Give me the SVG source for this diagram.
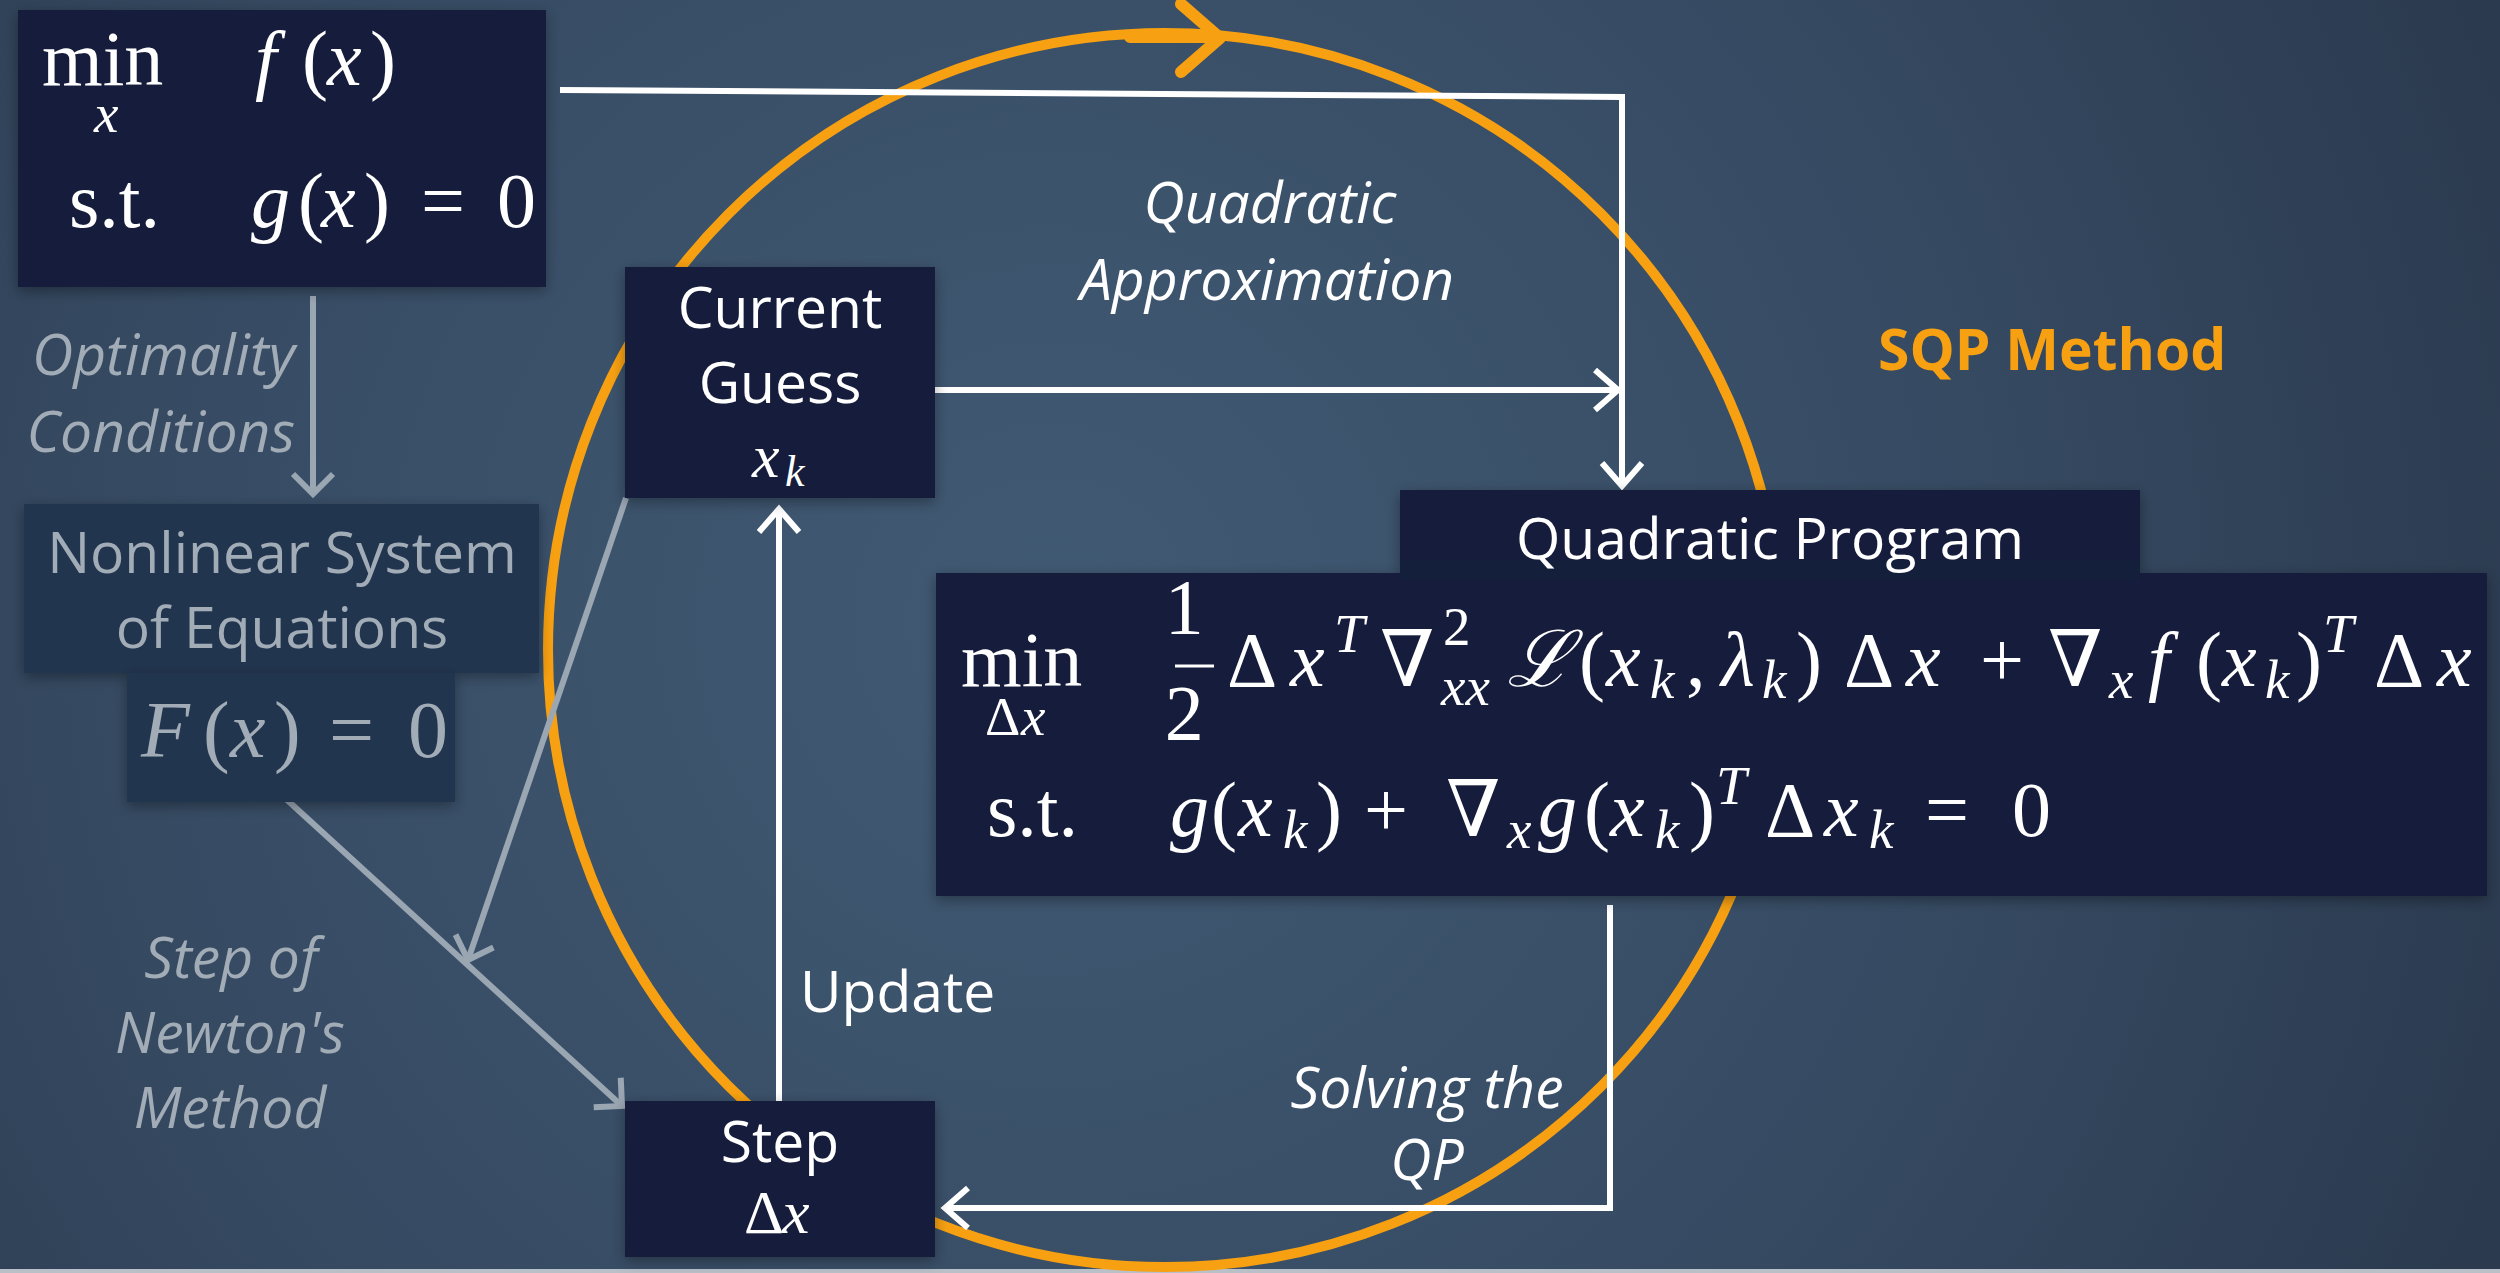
<svg xmlns="http://www.w3.org/2000/svg" width="2500" height="1273" viewBox="0 0 2500 1273">
<defs>
  <radialGradient id="bg" cx="1050" cy="620" r="1550" gradientUnits="userSpaceOnUse">
    <stop offset="0" stop-color="#415a74"/>
    <stop offset="0.55" stop-color="#374c64"/>
    <stop offset="1" stop-color="#2b3a4f"/>
  </radialGradient>
  <filter id="sh" x="-10%" y="-10%" width="120%" height="130%">
    <feDropShadow dx="0" dy="4" stdDeviation="7" flood-color="#000" flood-opacity="0.35"/>
  </filter>
  <marker id="aw" markerUnits="userSpaceOnUse" orient="auto" refX="0" refY="0" overflow="visible">
    <path d="M-23,-20 L0,0 L-23,20" fill="none" stroke="#ffffff" stroke-width="6"/>
  </marker>
  <marker id="ag" markerUnits="userSpaceOnUse" orient="auto" refX="0" refY="0" overflow="visible">
    <path d="M-20,-20 L0,0 L-20,20" fill="none" stroke="#9aa6b2" stroke-width="6"/>
  </marker>
  <style>
    .box{fill:#131f3b;filter:url(#sh)}
    .gbox{fill:#24344f;filter:url(#sh)}
    .lbl{font-family:"Open Sans","Noto Sans",sans-serif;font-size:57px;fill:#ffffff}
    .glbl{font-family:"Open Sans","Noto Sans",sans-serif;font-size:57px;fill:#a2acb7}
    .it{font-style:italic}
    .m{font-family:"Liberation Serif","DejaVu Serif",serif;font-size:78px;fill:#ffffff}
    .gm{font-family:"Liberation Serif","DejaVu Serif",serif;font-size:80px;fill:#a2acb7}
    .v{font-style:italic}
    .s{font-size:55px}
    .wl{fill:none;stroke:#ffffff;stroke-width:6}
    .gl{fill:none;stroke:#9aa6b2;stroke-width:6}
  </style>
</defs>
<rect x="0" y="0" width="2500" height="1273" fill="url(#bg)"/>
<rect x="0" y="1269" width="2500" height="4" fill="#b9c0c8"/>

<g id="cycle">
  <circle cx="1165" cy="650" r="617" fill="none" stroke="#f7a011" stroke-width="10"/>
  <path d="M1130,37 L1216,37 M1181,4 L1220,38 L1181,72" fill="none" stroke="#f7a011" stroke-width="12" stroke-linecap="round" stroke-linejoin="round"/>
  <text x="1878" y="370" style="font-family:'Open Sans','Noto Sans',sans-serif;font-size:57px;font-weight:bold;fill:#f7a011">SQP Method</text>
</g>

<g id="connectors">
  <path class="wl" d="M560,90 L1622,97 L1622,486" marker-end="url(#aw)"/>
  <path class="wl" d="M935,390 L1618,390" marker-end="url(#aw)"/>
  <path class="wl" d="M779,1101 L779,509" marker-end="url(#aw)"/>
  <path class="wl" d="M1610,905 L1610,1208 L945,1208" marker-end="url(#aw)"/>
  <path class="gl" d="M313,296 L313,494" marker-end="url(#ag)"/>
  <path class="gl" d="M274,788 L622,1106" marker-end="url(#ag)"/>
  <path class="gl" d="M626,498 L468,960" marker-end="url(#ag)"/>
  <text class="lbl it" text-anchor="middle" x="1270" y="223">Quadratic</text>
  <text class="lbl it" text-anchor="middle" x="1267" y="300">Approximation</text>
  <text class="lbl" x="800" y="1012">Update</text>
  <text class="lbl it" text-anchor="middle" x="1427" y="1108">Solving the</text>
  <text class="lbl it" text-anchor="middle" x="1427" y="1180">QP</text>
  <text class="glbl it" text-anchor="end" x="295" y="375">Optimality</text>
  <text class="glbl it" text-anchor="end" x="295" y="452">Conditions</text>
  <text class="glbl it" text-anchor="middle" x="231" y="978">Step of</text>
  <text class="glbl it" text-anchor="middle" x="230" y="1053">Newton's</text>
  <text class="glbl it" text-anchor="middle" x="230" y="1128">Method</text>
</g>

<g id="problem">
  <rect class="box" x="18" y="10" width="528" height="277"/>
  <text class="m">
    <tspan x="42" y="85">min</tspan>
    <tspan class="v s" x="94" y="132">x</tspan>
    <tspan class="v" x="255" y="85">f</tspan>
    <tspan x="302" y="85">(</tspan>
    <tspan class="v" x="327" y="85">x</tspan>
    <tspan x="370" y="85">)</tspan>
    <tspan x="69" y="227">s.t.</tspan>
    <tspan class="v" x="251" y="227">g</tspan>
    <tspan x="298" y="227">(</tspan>
    <tspan class="v" x="321" y="227">x</tspan>
    <tspan x="364" y="227">)</tspan>
    <tspan x="421" y="227">=</tspan>
    <tspan x="497" y="227">0</tspan>
  </text>
</g>

<g id="nonlinear">
  <rect class="gbox" x="24" y="504" width="515" height="169"/>
  <rect class="gbox" x="127" y="673" width="328" height="129"/>
  <text class="glbl" text-anchor="middle" x="282" y="573">Nonlinear System</text>
  <text class="glbl" text-anchor="middle" x="282" y="648">of Equations</text>
  <text class="gm">
    <tspan class="v" x="141" y="757">F</tspan>
    <tspan x="203" y="757">(</tspan>
    <tspan class="v" x="230" y="757">x</tspan>
    <tspan x="274" y="757">)</tspan>
    <tspan x="329" y="757">=</tspan>
    <tspan x="408" y="757">0</tspan>
  </text>
</g>

<g id="guess">
  <rect class="box" x="625" y="267" width="310" height="231"/>
  <text class="lbl" text-anchor="middle" x="780" y="328">Current</text>
  <text class="lbl" text-anchor="middle" x="780" y="403">Guess</text>
  <text class="m v" style="font-size:62px"><tspan x="752" y="477">x</tspan><tspan x="785" y="486" style="font-size:44px">k</tspan></text>
</g>

<g id="step">
  <rect class="box" x="625" y="1101" width="310" height="156"/>
  <text class="lbl" text-anchor="middle" x="780" y="1162">Step</text>
  <text class="m" style="font-size:62px"><tspan x="744" y="1233">Δ</tspan><tspan class="v" x="782" y="1233">x</tspan></text>
</g>

<g id="qp">
  <rect class="box" x="1400" y="490" width="740" height="83"/>
  <rect class="box" x="936" y="573" width="1551" height="323"/>
  <rect x="1400" y="560" width="740" height="20" fill="#131f3b"/>
  <text class="lbl" text-anchor="middle" x="1770" y="559">Quadratic Program</text>
  <line x1="1175" y1="666" x2="1214" y2="666" stroke="#ffffff" stroke-width="3"/>
  <text class="m">
    <tspan x="961" y="686">min</tspan>
    <tspan class="s" x="985" y="735">Δ</tspan><tspan class="v s" x="1021" y="735">x</tspan>
    <tspan text-anchor="middle" x="1194" y="633">1</tspan>
    <tspan text-anchor="middle" x="1194" y="739">2</tspan>
    <tspan x="1227" y="686">Δ</tspan>
    <tspan class="v" x="1290" y="686">x</tspan>
    <tspan class="v s" x="1334" y="652">T</tspan>
    <tspan x="1380" y="686">∇</tspan>
    <tspan class="s" x="1443" y="645">2</tspan>
    <tspan class="v s" x="1441" y="705">xx</tspan>
    <tspan class="v" x="1507" y="686">ℒ</tspan>
    <tspan x="1579" y="686">(</tspan>
    <tspan class="v" x="1606" y="686">x</tspan>
    <tspan class="v s" x="1650" y="698">k</tspan>
    <tspan x="1686" y="686">,</tspan>
    <tspan class="v" x="1721" y="686">λ</tspan>
    <tspan class="v s" x="1762" y="698">k</tspan>
    <tspan x="1796" y="686">)</tspan>
    <tspan x="1844" y="686">Δ</tspan>
    <tspan class="v" x="1906" y="686">x</tspan>
    <tspan x="1980" y="686">+</tspan>
    <tspan x="2048" y="686">∇</tspan>
    <tspan class="v s" x="2109" y="698">x</tspan>
    <tspan class="v" x="2148" y="686">f</tspan>
    <tspan x="2196" y="686">(</tspan>
    <tspan class="v" x="2222" y="686">x</tspan>
    <tspan class="v s" x="2265" y="698">k</tspan>
    <tspan x="2296" y="686">)</tspan>
    <tspan class="v s" x="2323" y="652">T</tspan>
    <tspan x="2374" y="686">Δ</tspan>
    <tspan class="v" x="2437" y="686">x</tspan>

    <tspan x="987" y="836">s.t.</tspan>
    <tspan class="v" x="1170" y="836">g</tspan>
    <tspan x="1211" y="836">(</tspan>
    <tspan class="v" x="1238" y="836">x</tspan>
    <tspan class="v s" x="1283" y="848">k</tspan>
    <tspan x="1316" y="836">)</tspan>
    <tspan x="1364" y="836">+</tspan>
    <tspan x="1446" y="836">∇</tspan>
    <tspan class="v s" x="1507" y="848">x</tspan>
    <tspan class="v" x="1538" y="836">g</tspan>
    <tspan x="1584" y="836">(</tspan>
    <tspan class="v" x="1610" y="836">x</tspan>
    <tspan class="v s" x="1655" y="848">k</tspan>
    <tspan x="1689" y="836">)</tspan>
    <tspan class="v s" x="1716" y="804">T</tspan>
    <tspan x="1765" y="836">Δ</tspan>
    <tspan class="v" x="1824" y="836">x</tspan>
    <tspan class="v s" x="1869" y="848">k</tspan>
    <tspan x="1925" y="836">=</tspan>
    <tspan x="2012" y="836">0</tspan>
  </text>
</g>
</svg>
